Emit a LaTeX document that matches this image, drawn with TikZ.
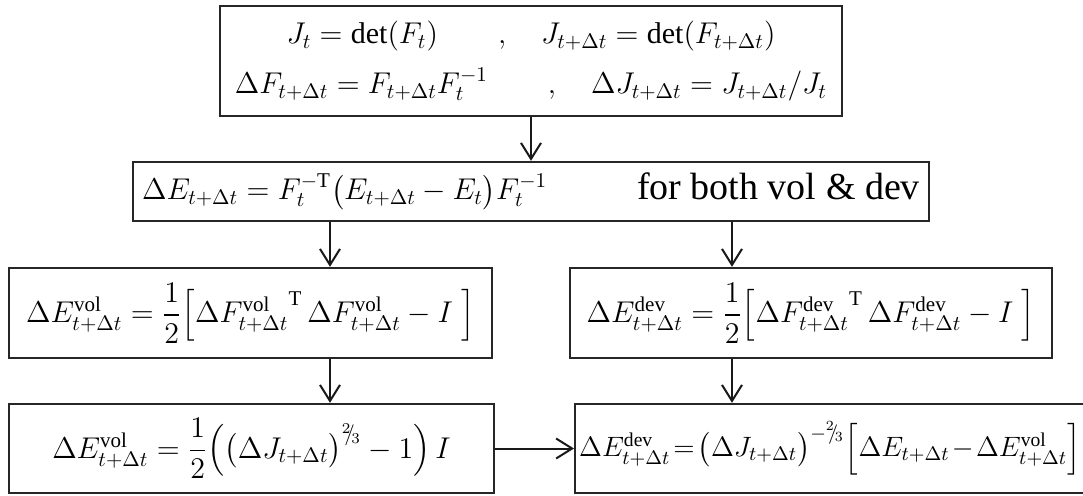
\RequirePackage{fix-cm}
\documentclass[tikz,border=0pt]{standalone}
\usepackage{amsmath}
\usepackage{fontspec}
\setmainfont{Liberation Serif}
\usetikzlibrary{arrows.meta,positioning}
\newcommand{\slfrac}[2]{{}^{#1}\!\!/\!{}_{#2}}
\newcommand{\dt}{t+\Delta t}
\tikzset{
  eqbox/.style={rectangle, draw=black!85, line width=1.2pt, inner sep=2pt,
    align=center, font=\fontsize{15}{25}\selectfont},
  flow/.style={-{Straight Barb[length=8pt,width=10pt]}, line width=1pt, draw=black!90},
}

\begin{document}
\begin{tikzpicture}[x=0.5pt, y=-0.5pt]
  \useasboundingbox (0,0) rectangle (1083,495);
  % kinematics of the step
  \node[eqbox, minimum width=311pt, minimum height=55pt] (kin) at (531,61)
    {$J_{t}=\det(F_{t})\qquad,\quad J_{\dt}=\det(F_{\dt})$\\
     $\Delta F_{\dt}=F_{\dt}F_{t}^{-1}\qquad,\quad \Delta J_{\dt}=J_{\dt}/J_{t}$};
  \node[eqbox, minimum width=398pt, minimum height=29.5pt] (dE) at (531,191.5)
    {$\Delta E_{\dt}=F_{t}^{-\mathrm{T}}\big(E_{\dt}-E_{t}\big)F_{t}^{-1}$\qquad\quad
     {\fontsize{19}{23}\selectfont for both vol \& dev}};
  % split into vol and dev parts
  \node[eqbox, minimum width=241.5pt, minimum height=45pt] (volF) at (250.5,313)
    {$\Delta E^{\mathrm{vol}}_{\dt}=\dfrac{1}{2}\Big[{\Delta F^{\mathrm{vol}}_{\dt}}^{\mathrm{T}}\,\Delta F^{\mathrm{vol}}_{\dt}-I\;\Big]$};
  \node[eqbox, minimum width=241pt, minimum height=45pt] (devF) at (811,313)
    {$\Delta E^{\mathrm{dev}}_{\dt}=\dfrac{1}{2}\Big[{\Delta F^{\mathrm{dev}}_{\dt}}^{\mathrm{T}}\,\Delta F^{\mathrm{dev}}_{\dt}-I\;\Big]$};
  \node[eqbox, minimum width=242.5pt, minimum height=44.5pt] (volJ) at (251.5,448.5)
    {$\Delta E^{\mathrm{vol}}_{\dt}=\dfrac{1}{2}\Big(\big(\Delta J_{\dt}\big)^{\slfrac{2}{3}}-1\Big)\,I$};
  \node[eqbox, anchor=west, minimum height=44.5pt, font=\fontsize{14}{20}\selectfont] (devJ) at (574,448.5)
    {\makebox[260pt][l]{\thickmuskip=2mu \medmuskip=1.5mu
     $\Delta E^{\mathrm{dev}}_{\dt}=\big(\Delta J_{\dt}\big)^{-\slfrac{2}{3}}\Big[\Delta E_{\dt}-\Delta E^{\mathrm{vol}}_{\dt}\Big]$}};
  \coordinate (lx) at (330,0);
  \coordinate (rx) at (732,0);
  \draw[flow] (kin) -- (dE);
  \draw[flow] (dE.south -| lx) -- (volF.north -| lx);
  \draw[flow] (dE.south -| rx) -- (devF.north -| rx);
  \draw[flow] (volF.south -| lx) -- (volJ.north -| lx);
  \draw[flow] (devF.south -| rx) -- (devJ.north -| rx);
  \draw[flow] (volJ) -- (devJ);
\end{tikzpicture}
\end{document}
